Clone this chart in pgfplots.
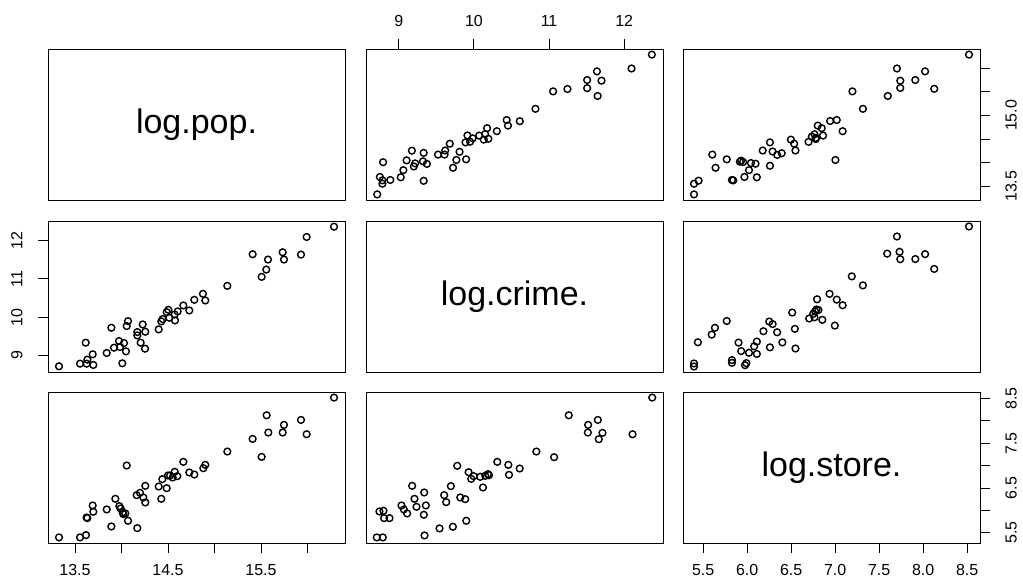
\documentclass[border=0pt]{standalone}
\usepackage{fontspec}
\setmainfont{Liberation Sans}
\usepackage{pgfplots}
\usepackage{pgfplotstable}
\pgfplotsset{compat=1.18}

% log.pop. vs log.crime.
\pgfplotstableread{
pop crime
13.328 8.713
13.554 8.782
13.633 8.887
13.625 8.782
13.697 8.748
13.690 9.026
13.615 9.331
13.841 9.061
13.919 9.200
13.973 9.374
13.984 9.218
14.027 9.322
14.048 9.104
14.009 8.791
13.891 9.722
14.056 9.766
14.070 9.896
14.170 9.609
14.170 9.522
14.228 9.809
14.256 9.618
14.206 9.331
14.253 9.174
14.400 9.679
14.428 9.888
14.443 9.949
14.486 10.131
14.504 10.192
14.514 9.983
14.572 10.070
14.575 9.914
14.604 10.149
14.665 10.305
14.729 10.175
14.783 10.453
14.876 10.610
14.901 10.436
15.138 10.819
15.410 11.646
15.507 11.054
15.557 11.245
15.575 11.507
15.733 11.698
15.747 11.507
15.930 11.637
15.991 12.098
16.285 12.368
}\tabA

% log.pop. vs log.store.
\pgfplotstableread{
pop store
13.328 5.396
13.554 5.396
13.618 5.448
13.633 5.827
13.625 5.842
13.690 6.110
13.697 5.969
13.841 6.021
13.891 5.641
13.934 6.259
13.977 6.095
13.991 6.043
14.013 5.954
14.041 5.932
14.070 5.768
14.056 7.003
14.020 5.917
14.170 5.604
14.163 6.341
14.199 6.393
14.235 6.289
14.256 6.177
14.256 6.549
14.400 6.534
14.428 6.259
14.439 6.698
14.486 6.497
14.500 6.780
14.522 6.780
14.550 6.735
14.572 6.862
14.600 6.765
14.665 7.085
14.729 6.847
14.783 6.802
14.880 6.943
14.901 7.018
15.138 7.315
15.410 7.598
15.507 7.196
15.561 8.126
15.579 7.740
15.733 7.740
15.747 7.911
15.930 8.022
15.991 7.702
16.285 8.521
}\tabB

% log.crime. vs log.store.
\pgfplotstableread{
crime store
8.707 5.396
8.787 5.396
8.742 5.976
8.796 5.991
8.804 5.827
8.876 5.827
9.036 6.110
9.067 6.021
9.111 5.932
9.178 6.549
9.209 6.259
9.236 6.080
9.338 6.400
9.360 6.110
9.333 5.902
9.342 5.440
9.542 5.597
9.604 6.341
9.631 6.185
9.693 6.542
9.720 5.634
9.778 6.996
9.818 6.289
9.884 6.251
9.898 5.768
9.929 6.854
9.964 6.705
9.996 6.765
10.084 6.750
10.120 6.512
10.151 6.772
10.187 6.810
10.200 6.787
10.311 7.085
10.458 7.018
10.467 6.795
10.609 6.936
10.831 7.315
11.067 7.189
11.262 8.126
11.520 7.911
11.516 7.740
11.649 8.022
11.711 7.732
11.662 7.591
12.111 7.702
12.373 8.521
}\tabC

\pgfplotsset{
  pairpanel/.style={
    scale only axis, width=297pt, height=151pt, anchor=south west,
    axis line style={line width=0.9pt},
    every tick/.style={line width=0.9pt, black},
    major tick length=10pt, tick align=outside,
    xtick=\empty, ytick=\empty,
    ticklabel style={font=\fontsize{16}{19}\selectfont},
  },
  popx/.style={xmin=13.2097, xmax=16.4033},
  popy/.style={ymin=13.2097, ymax=16.4033},
  crimex/.style={xmin=8.5636, xmax=12.5164},
  crimey/.style={ymin=8.5636, ymax=12.5164},
  storex/.style={xmin=5.271, xmax=8.646},
  storey/.style={ymin=5.271, ymax=8.646},
  pts/.style={only marks, mark=o, mark size=3.4pt, black, mark options={line width=1.4pt}},
  botlab/.style={xtick pos=left, xticklabel pos=left, xticklabel style={yshift=-8pt}},
  toplab/.style={xtick pos=right, xticklabel pos=right, xticklabel style={yshift=9pt}},
  leftlab/.style={ytick pos=left, yticklabel pos=left, yticklabel style={xshift=-12pt, rotate=90, anchor=south}},
  rightlab/.style={ytick pos=right, yticklabel pos=right, yticklabel style={xshift=12pt, rotate=90, anchor=north}},
}

\begin{document}
\begin{tikzpicture}
\path[use as bounding box] (0,0) rectangle (1023pt,582pt);

% row 1
\begin{axis}[pairpanel, at={(48pt,382pt)}, popx, popy]
  \node at (rel axis cs:0.5,0.5) {\fontsize{34}{40}\selectfont log.pop.};
\end{axis}
\begin{axis}[pairpanel, at={(366pt,382pt)}, crimex, popy,
  xtick={9,10,11,12}, xticklabels={9,10,11,12}, toplab]
  \addplot[pts] table[x=crime, y=pop] {\tabA};
\end{axis}
\begin{axis}[pairpanel, at={(683pt,382pt)}, storex, popy,
  ytick={13.5,14,14.5,15,15.5,16}, yticklabels={13.5,,,15.0,,}, rightlab]
  \addplot[pts] table[x=store, y=pop] {\tabB};
\end{axis}

% row 2
\begin{axis}[pairpanel, at={(48pt,210pt)}, popx, crimey,
  ytick={9,10,11,12}, yticklabels={9,10,11,12}, leftlab]
  \addplot[pts] table[x=pop, y=crime] {\tabA};
\end{axis}
\begin{axis}[pairpanel, at={(366pt,210pt)}, crimex, crimey]
  \node at (rel axis cs:0.5,0.5) {\fontsize{34}{40}\selectfont log.crime.};
\end{axis}
\begin{axis}[pairpanel, at={(683pt,210pt)}, storex, crimey]
  \addplot[pts] table[x=store, y=crime] {\tabC};
\end{axis}

% row 3
\begin{axis}[pairpanel, at={(48pt,39pt)}, popx, storey,
  xtick={13.5,14,14.5,15,15.5,16}, xticklabels={13.5,,14.5,,15.5,}, botlab]
  \addplot[pts] table[x=pop, y=store] {\tabB};
\end{axis}
\begin{axis}[pairpanel, at={(366pt,39pt)}, crimex, storey]
  \addplot[pts] table[x=crime, y=store] {\tabC};
\end{axis}
\begin{axis}[pairpanel, at={(683pt,39pt)}, storex, storey,
  xtick={5.5,6,6.5,7,7.5,8,8.5}, xticklabels={5.5,6.0,6.5,7.0,7.5,8.0,8.5}, botlab,
  ytick={5.5,6,6.5,7,7.5,8,8.5}, yticklabels={5.5,,6.5,,7.5,,8.5}, rightlab]
  \node at (rel axis cs:0.5,0.5) {\fontsize{34}{40}\selectfont log.store.};
\end{axis}
\end{tikzpicture}
\end{document}
